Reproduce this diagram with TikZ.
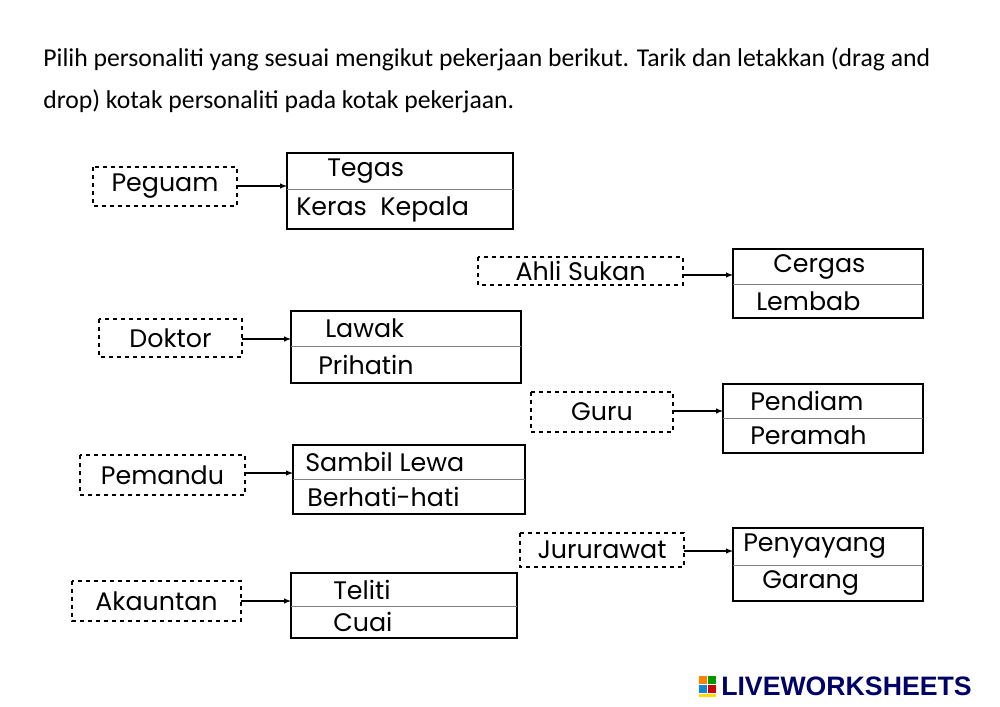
\documentclass[tikz,border=0pt]{standalone}
\usepackage{fontspec}
\setmainfont{Poppins}
\newfontfamily\hdr{Carlito}
\begin{document}
\begin{tikzpicture}[x=0.75pt,y=-0.75pt,
 job/.style={draw,dashed,line width=1.1pt,inner sep=0pt},
 ans/.style={font=\fontsize{19}{20}\selectfont,anchor=west,inner sep=0pt},
 arr/.style={-latex,line width=0.8pt},
 box/.style={draw,line width=0.8pt}]
\useasboundingbox (0,0) rectangle (1000,707);
\fill[white] (0,0) rectangle (1000,707);
\node[anchor=north west,align=left,font=\hdr\fontsize{14.6}{24}\selectfont,inner sep=0pt,xscale=1.32,yscale=1.32,transform shape] (h) at (43,47)
 {Pilih personaliti yang sesuai mengikut pekerjaan berikut. Tarik dan letakkan (drag and\\drop) kotak personaliti pada kotak pekerjaan.};
\foreach \n/\jx/\jy/\jX/\jY/\bx/\by/\bX/\bY/\m/\ay/\ta/\tb/\txa/\txb/\jt in {
 a/93/167/237/206/287/153/513/229/189/186/Tegas/{Keras\ \ Kepala}/327/296/Peguam,
 b/478/257/683/285/733/249/923/318/284/275/Cergas/Lembab/773/756/{Ahli Sukan},
 c/99/319/242/357/291/311/521/383/346/339/Lawak/Prihatin/325/318/Doktor,
 d/531/392/673/432/723/384/923/453/418/411/Pendiam/Peramah/750/750/Guru,
 e/80/455/245/495/293/445/525/514/479/473/{Sambil Lewa}/Berhati-hati/305/307/Pemandu,
 f/520/533/684/567/733/528/923/601/565/551/Penyayang/Garang/743/762/Jururawat,
 g/72/581/241/621/291/573/517/638/606/601/Teliti/Cuai/333/333/Akauntan}{
 \draw[job] (\jx,\jy) rectangle (\jX,\jY);
 \node[font=\fontsize{19}{20}\selectfont] (j\n) at ({(\jx+\jX)/2},{(\jy+\jY)/2}) {\jt};
 \draw[box] (\bx,\by) rectangle (\bX,\bY);
 \draw[line width=0.5pt,gray] (\bx,\m) -- (\bX,\m);
 \coordinate (s\n) at (\jX,\ay);
 \coordinate (t\n) at (\bx,\ay);
 \draw[arr] (s\n) -- (t\n);
 \node[ans] (p\n) at (\txa,{(\by+\m)/2}) {\ta};
 \node[ans] (q\n) at (\txb,{(\m+\bY)/2}) {\tb};
}
% logo
\fill[orange] (699,676) rectangle (707,684);
\fill[green!60!black] (708,676) rectangle (716,684);
\fill[cyan!70!blue] (699,685) rectangle (707,693);
\fill[red!80!black] (708,685) rectangle (716,693);
\fill[yellow!80!orange] (699,694) rectangle (716,697);
\node[anchor=west,inner sep=0pt,font=\fontspec{Liberation Sans}\bfseries\fontsize{20}{21}\selectfont,text=blue!40!black] (logo) at (721,686) {LIVEWORKSHEETS};
\end{tikzpicture}
\end{document}
